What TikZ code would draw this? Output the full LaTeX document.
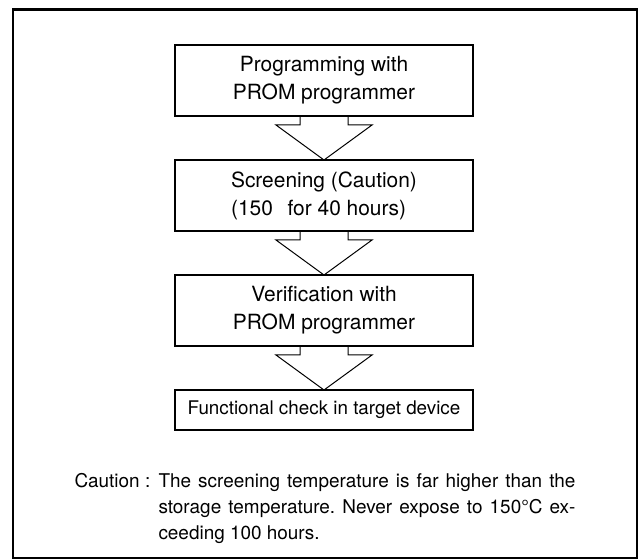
\documentclass[tikz,border=0pt]{standalone}
\usepackage{fontspec}
\setmainfont{TeX Gyre Heros}
\frenchspacing

\tikzset{every picture/.style={line width=0.75pt}}
\tikzset{
  stepbox/.style={draw, line width=1.8pt, outer sep=0pt, inner sep=0.75pt, minimum width=223.5pt, minimum height=53.25pt, align=center, font=\fontsize{15.7}{21}\selectfont},
  blockarrow/.style={line width=0.75pt, line join=miter},
  notetext/.style={inner sep=0pt, font=\fontsize{14.2}{19.5}\selectfont}
}

\begin{document}
\begin{tikzpicture}[x=0.75pt,y=0.75pt,yscale=-1,xscale=1]
\useasboundingbox (0,0) rectangle (639,559);

%Shape: Rectangle [outer frame]
\draw [line width=2.1pt] (13,9.5) rectangle (637,558);

%Shape: Rectangle [steps]
\node (prog) [stepbox] at (324,80.5) {Programming with\\PROM programmer};
\node (screen) [stepbox, align=left] at (324,195.5) {Screening (Caution)\\(150\hspace{11pt}for 40 hours)};
\node (verify) [stepbox] at (324,310.5) {Verification with\\PROM programmer};
\node (check) [stepbox, minimum height=30pt, font=\fontsize{14.1}{17}\selectfont] at (324,410) {Functional check in target device};

%Shape: Block Arrow [prog -> screen]
\draw [blockarrow] (prog.south) ++(-24,0) -- ++(0,9) -- ++(-24,0) -- (screen.north) -- ++(48,-35) -- ++(-24,0) -- ++(0,-9) ;
%Shape: Block Arrow [screen -> verify]
\draw [blockarrow] (screen.south) ++(-24,0) -- ++(0,9) -- ++(-24,0) -- (verify.north) -- ++(48,-35) -- ++(-24,0) -- ++(0,-9) ;
%Shape: Block Arrow [verify -> check]
\draw [blockarrow] (verify.south) ++(-24,0) -- ++(0,9) -- ++(-24,0) -- (check.north) -- ++(48,-35) -- ++(-24,0) -- ++(0,-9) ;

% Text Node
\node (cauhead) [notetext, anchor=base west] at (74,487) {Caution :};
% Text Node
\node (caubody) [notetext, anchor=base west, align=left] at (158,539) {\makebox[312.75pt][s]{The screening temperature is far higher than the}\\\makebox[312.75pt][s]{storage temperature. Never expose to 150°C ex-}\\ceeding 100 hours.};

\end{tikzpicture}
\end{document}
